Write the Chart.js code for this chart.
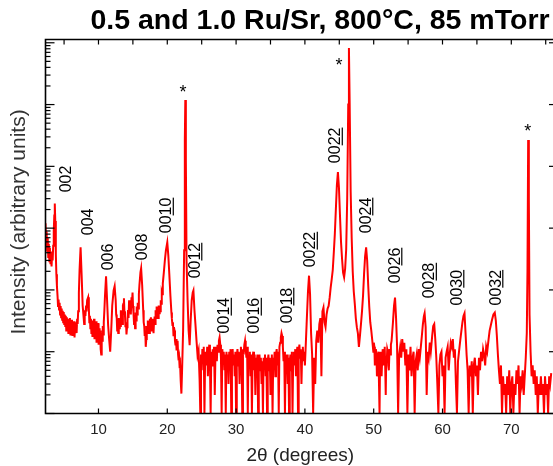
<!DOCTYPE html>
<html>
<head>
<meta charset="utf-8">
<script src="https://cdn.jsdelivr.net/npm/chart.js@4/dist/chart.umd.min.js"></script>
<style>
  html, body { margin: 0; padding: 0; background: #fff; }
  #wrap { width: 553px; height: 466px; }
</style>
</head>
<body>
<div id="wrap"><canvas id="xrd" width="553" height="466"></canvas></div>
<script>
//  Scan: [2theta (deg), intensity (counts)]
const scan = [
  [2.30,1200],[2.38,620],[2.46,880],[2.54,430],[2.62,700],[2.70,340],[2.78,560],[2.86,290],[2.94,480],[3.02,260],
  [3.10,420],[3.18,240],[3.26,380],[3.34,300],[3.42,520],[3.50,900],[3.58,1600],[3.65,2500],[3.72,1300],[3.80,380],
  [3.88,180],[3.96,115],[4.05,80],[4.12,55],[4.2,70],[4.27,48],[4.35,62],[4.42,40],[4.5,55],[4.57,36],
  [4.65,50],[4.72,33],[4.8,46],[4.87,30],[4.95,44],[5.02,28],[5.1,40],[5.17,26],[5.25,38],[5.32,22],
  [5.4,36],[5.47,25],[5.55,34],[5.62,20],[5.7,32],[5.77,24],[5.85,35],[5.92,19],[6.0,30],[6.07,22],
  [6.15,33],[6.22,18],[6.3,29],[6.37,21],[6.45,31],[6.52,17],[6.6,28],[6.67,22],[6.75,30],[6.82,20],
  [6.9,34],[6.97,28],[7.05,45],[7.15,90],[7.25,208],[7.4,490],[7.55,175],[7.7,56],[7.85,35],[7.92,28],
  [8.0,47],[8.1,38],[8.2,56],[8.27,45],[8.35,68],[8.5,76],[8.6,50],[8.67,30],[8.75,38],[8.82,24],
  [8.9,34],[8.97,20],[9.05,32],[9.12,18],[9.2,30],[9.27,22],[9.35,34],[9.42,16],[9.5,28],[9.57,20],
  [9.65,31],[9.72,14],[9.8,26],[9.87,18],[9.95,29],[10.02,13],[10.1,24],[10.17,16],[10.25,22],[10.32,11],
  [10.4,9],[10.47,20],[10.55,15],[10.62,26],[10.7,19],[10.77,30],[10.85,45],[10.95,82],[11.1,166],[11.25,68],
  [11.4,27],[11.55,16],[11.7,10],[11.85,22],[12.0,56],[12.2,98],[12.35,115],[12.5,68],[12.57,40],[12.65,35],
  [12.72,22],[12.8,30],[12.87,20],[12.95,35],[13.02,24],[13.1,32],[13.17,26],[13.25,47],[13.32,30],[13.4,38],
  [13.47,28],[13.55,56],[13.62,60],[13.7,73],[13.77,45],[13.85,39],[13.92,25],[14.0,30],[14.07,19],[14.15,25],
  [14.22,34],[14.3,47],[14.37,35],[14.45,68],[14.52,45],[14.6,56],[14.7,40],[14.8,76],[14.87,60],[14.95,91],
  [15.02,55],[15.1,40],[15.17,28],[15.25,35],[15.32,24],[15.4,43],[15.47,32],[15.55,54],[15.62,40],[15.7,62],
  [15.8,50],[15.87,85],[15.95,119],[16.1,193],[16.2,224],[16.35,119],[16.5,47],[16.57,30],[16.65,26],[16.72,18],
  [16.8,22],[16.87,12],[16.95,16],[17.02,26],[17.1,20],[17.17,32],[17.25,24],[17.32,30],[17.4,20],[17.47,34],
  [17.55,26],[17.62,36],[17.7,22],[17.77,30],[17.85,25],[17.92,34],[18.0,20],[18.07,30],[18.15,37],[18.22,28],
  [18.3,47],[18.37,35],[18.45,54],[18.52,38],[18.6,45],[18.67,35],[18.75,56],[18.82,42],[18.9,52],[18.97,45],
  [19.05,68],[19.12,60],[19.2,91],[19.27,85],[19.35,128],[19.5,193],[19.65,302],[19.8,438],[20.0,590],[20.15,360],
  [20.3,175],[20.45,82],[20.6,43],[20.67,34],[20.75,27],[20.82,30],[20.9,18.4],[20.97,25],[21.05,22],[21.12,15],
  [21.2,12.7],[21.27,16],[21.35,10.5],[21.42,13],[21.5,15],[21.57,9],[21.65,7.2],[21.72,8],[21.8,5.4],[21.87,6],
  [21.95,3.4],[22.05,2.1],[22.15,5],[22.3,22],[22.45,440],[22.55,26600],[22.62,118000],[22.7,12600],[22.8,300],[22.95,68],
  [23.1,22],[23.25,12.7],[23.4,32],[23.55,68],[23.7,91],[23.8,98],[23.95,47],[24.1,27],[24.25,15],[24.4,8.7],
  [24.55,10.5],[24.7,3.4],[24.8,1],[24.9,9],[25.0,5],[25.1,11],[25.2,7],[25.3,12],[25.4,1],[25.5,8],
  [25.6,10],[25.7,6],[25.8,12],[25.9,4],[26.0,9],[26.1,13],[26.2,7],[26.3,1],[26.4,10],[26.5,6],
  [26.6,11],[26.7,8],[26.8,12],[26.9,2],[27.0,9],[27.1,12],[27.2,7],[27.3,13],[27.4,10],[27.5,15],
  [27.6,17],[27.7,13],[27.8,8],[27.9,1],[28.0,11],[28.1,7],[28.2,10],[28.3,5],[28.4,9],[28.5,1],
  [28.6,10],[28.7,6],[28.8,9],[28.9,3],[29.0,10],[29.1,7],[29.2,11],[29.3,1],[29.4,8],[29.5,11],
  [29.6,6],[29.7,9],[29.8,4],[29.9,10],[30.0,1],[30.1,8],[30.2,11],[30.3,6],[30.4,10],[30.5,3],
  [30.6,9],[30.7,12],[30.8,7],[30.9,1],[31.0,11],[31.1,9],[31.2,13],[31.3,15],[31.4,11],[31.5,8],
  [31.6,12],[31.7,1],[31.8,9],[31.9,6],[32.0,10],[32.1,4],[32.2,9],[32.3,1],[32.4,8],[32.5,10],
  [32.6,5],[32.7,9],[32.8,2],[32.9,8],[33.0,6],[33.1,9],[33.2,1],[33.3,7],[33.4,9],[33.5,5],
  [33.6,8],[33.7,3],[33.8,7],[33.9,1],[34.0,8],[34.1,6],[34.2,9],[34.3,4],[34.4,8],[34.5,1],
  [34.6,7],[34.7,9],[34.8,5],[34.9,8],[35.0,2],[35.1,7],[35.2,9],[35.3,1],[35.4,8],[35.5,6],
  [35.6,10],[35.7,4],[35.8,9],[35.9,11],[36.0,6],[36.1,10],[36.2,1],[36.3,12],[36.4,14],[36.5,17],
  [36.6,20],[36.7,18],[36.8,12],[36.9,7],[37.0,10],[37.1,1],[37.2,8],[37.3,6],[37.4,9],[37.5,3],
  [37.6,8],[37.7,1],[37.8,7],[37.9,9],[38.0,5],[38.1,10],[38.2,1],[38.3,8],[38.4,10],[38.5,6],
  [38.6,11],[38.7,4],[38.8,9],[38.9,12],[39.0,1],[39.1,10],[39.2,13],[39.3,8],[39.4,11],[39.5,3],
  [39.6,9],[39.7,12],[39.8,7],[39.9,10],[40.0,6],[40.1,11],[40.25,28],[40.45,95],[40.6,170],[40.75,85],
  [40.9,20],[41.05,9],[41.2,1],[41.35,8],[41.5,3],[41.65,15],[41.8,22],[41.95,14],[42.1,28],[42.25,35],
  [42.4,4],[42.55,45],[42.7,52],[42.85,30],[43.0,25],[43.15,40],[43.3,50],[43.45,55],[43.6,75],[43.75,110],
  [43.9,150],[44.05,210],[44.2,400],[44.35,800],[44.5,2000],[44.65,5000],[44.8,8050],[44.95,4500],[45.1,1600],[45.25,600],
  [45.4,320],[45.55,190],[45.7,160],[45.85,220],[46.0,450],[46.15,3000],[46.3,100000],[46.4,824000],[46.5,120000],[46.65,4000],
  [46.8,700],[46.95,200],[47.1,95],[47.25,60],[47.4,35],[47.55,25],[47.7,20],[47.85,12],[48.0,18],[48.15,28],
  [48.3,45],[48.45,80],[48.6,180],[48.75,350],[48.9,490],[49.05,300],[49.2,120],[49.35,55],[49.5,30],[49.65,22],
  [49.8,15],[49.95,10],[50.02,14],[50.1,12],[50.17,6],[50.25,7],[50.32,11],[50.4,9],[50.47,4],[50.55,5],
  [50.62,8],[50.7,10],[50.77,3],[50.85,1],[50.92,7],[51.0,8],[51.07,10],[51.15,4],[51.22,7],[51.3,11],
  [51.37,9],[51.45,6],[51.52,10],[51.6,12],[51.67,6],[51.75,2],[51.82,8],[51.9,7],[51.97,11],[52.05,10],
  [52.12,6],[52.2,5],[52.3,11],[52.4,9],[52.5,13],[52.6,15],[52.8,30],[52.95,55],[53.1,75],[53.25,35],
  [53.4,12],[53.55,1],[53.7,9],[53.85,12],[54.0,8],[54.15,16],[54.3,10],[54.45,14],[54.6,6],[54.75,11],
  [54.9,1],[55.05,9],[55.2,5],[55.35,12],[55.5,4],[55.65,8],[55.8,10],[55.95,1],[56.1,7],[56.25,9],
  [56.4,5],[56.55,11],[56.7,8],[56.85,12],[57.0,18],[57.15,28],[57.3,38],[57.4,42],[57.55,25],[57.7,2],
  [57.85,10],[58.0,8],[58.15,14],[58.3,10],[58.5,18],[58.65,26],[58.8,28],[58.95,16],[59.1,8],[59.25,3],
  [59.4,1],[59.55,6],[59.7,9],[59.85,10],[60.0,4],[60.15,6],[60.3,1],[60.45,8],[60.6,10],[60.75,12],
  [60.9,5],[61.05,9],[61.2,14],[61.35,12],[61.5,16],[61.65,8],[61.8,11],[61.95,3],[62.1,1],[62.25,7],
  [62.4,10],[62.6,16],[62.75,22],[62.9,30],[63.05,38],[63.2,42],[63.35,20],[63.5,9],[63.65,5],[63.8,1],
  [63.95,6],[64.1,4],[64.25,7],[64.4,1],[64.55,6],[64.7,8],[64.85,4],[65.0,6],[65.15,2],[65.3,8],
  [65.45,5],[65.6,10],[65.75,7],[65.9,11],[66.05,9],[66.2,6],[66.35,12],[66.5,10],[66.7,16],[66.85,22],
  [67.0,26],[67.2,33],[67.4,40],[67.6,43],[67.75,32],[67.9,18],[68.05,9],[68.2,5],[68.35,3],[68.5,6],
  [68.65,1],[68.8,4],[68.95,2],[69.1,3],[69.25,1],[69.4,4],[69.55,2],[69.7,5],[69.85,1],[70.0,3],
  [70.15,4],[70.3,1],[70.45,3],[70.6,2],[70.75,5],[70.9,3],[71.05,6],[71.2,1],[71.35,4],[71.5,3],
  [71.65,5],[71.8,2],[71.95,4],[72.1,8],[72.25,20],[72.35,200],[72.45,26600],[72.55,3000],[72.65,40],[72.8,10],
  [72.95,4],[73.1,6],[73.25,3],[73.4,5],[73.55,2],[73.7,4],[73.85,1],[74.0,3],[74.15,2],[74.3,4],
  [74.45,2],[74.6,3],[74.75,1],[74.9,4],[75.05,2],[75.2,3],[75.35,1],[75.5,4],[75.65,3],[75.8,4.5]
];

//  Reflection labels: text, index where the underlined part starts, 2theta, intensity at the text foot
const peakText  = ['002', '004', '006', '008', '0010', '0012', '0014', '0016', '0018', '0022', '0022', '0024', '0026', '0028', '0030', '0032'];
const peakUnder = [3, 3, 3, 3, 2, 2, 2, 2, 2, 2, 2, 2, 2, 2, 2, 2];
const peakX     = [5.13, 8.40, 11.31, 16.18, 19.74, 23.88, 28.17, 32.53, 37.25, 40.67, 44.30, 48.73, 52.95, 57.97, 61.96, 67.63];
const peakY     = [3800, 767, 208, 302, 827, 154, 19.8, 19.8, 28.8, 232, 11270, 827, 128, 73, 56, 56];

//  Substrate peaks marked with a star
const starX = [22.28, 44.96, 72.38];
const starY = [178000, 490000, 41500];

//  Axis ticks
const xTicks   = [10, 20, 30, 40, 50, 60, 70];
const topTicks = [5, 10, 15, 20, 25, 30, 35, 40, 45, 50, 55, 60, 65, 70, 75];
const yDecades = [1, 10, 100, 1000, 10000, 100000, 1000000];

const X_MIN = 2.30, X_MAX = 76.06;
const Y_MIN = 1, Y_MAX = 1.13e6;

const FONT = '"Liberation Sans", Arial, sans-serif';

// draws the frame, ticks, texts and labels
const decor = {
    id: 'decor',
    afterDraw(chart) {
        const { ctx, chartArea: a, scales: { x, y } } = chart;
        ctx.save();

        const seg = (x1, y1, x2, y2) => {
            ctx.beginPath(); ctx.moveTo(x1, y1); ctx.lineTo(x2, y2); ctx.stroke();
        };

        // frame (right side falls on the window edge)
        ctx.strokeStyle = '#000';
        ctx.lineWidth = 1.6;
        ctx.beginPath();
        ctx.moveTo(a.right, a.top);
        ctx.lineTo(a.left, a.top);
        ctx.lineTo(a.left, a.bottom);
        ctx.lineTo(a.right, a.bottom);
        ctx.stroke();

        ctx.lineWidth = 1.2;
        xTicks.forEach(v => {
            const px = x.getPixelForValue(v);
            seg(px, a.bottom, px, a.bottom - 5);
        });
        topTicks.forEach(v => {
            const px = x.getPixelForValue(v);
            seg(px, a.top, px, a.top + 5);
        });
        yDecades.forEach(v => {
            const py = y.getPixelForValue(v);
            seg(a.left, py, a.left + 9, py);
            seg(a.right, py, a.right - 4, py);
            if (v < 1000000) {
                for (let m = 2; m <= 9; m++) {
                    const pm = y.getPixelForValue(v * m);
                    if (pm >= a.top) seg(a.left, pm, a.left + 5, pm);
                }
            }
        });

        // tick labels
        ctx.fillStyle = '#222';
        ctx.font = '15px ' + FONT;
        ctx.textAlign = 'center';
        ctx.textBaseline = 'alphabetic';
        xTicks.forEach(v => ctx.fillText(String(v), x.getPixelForValue(v), 434));

        // axis titles
        ctx.font = '19px ' + FONT;
        ctx.fillText('2θ (degrees)', (a.left + a.right) / 2 + 1, 461);

        ctx.save();
        ctx.translate(25, 222);
        ctx.rotate(-Math.PI / 2);
        ctx.font = '21px ' + FONT;
        ctx.fillStyle = '#333';
        ctx.fillText('Intensity (arbitrary units)', 0, 0);
        ctx.restore();

        // title
        ctx.fillStyle = '#000';
        ctx.font = 'bold 28.5px ' + FONT;
        ctx.fillText('0.5 and 1.0 Ru/Sr, 800°C, 85 mTorr', 320, 29);

        // reflection labels, rotated, with the index part underlined
        ctx.font = '16px ' + FONT;
        ctx.textAlign = 'left';
        peakText.forEach((t, i) => {
            const px = x.getPixelForValue(peakX[i]);
            const py = y.getPixelForValue(peakY[i]);
            ctx.save();
            ctx.translate(px, py);
            ctx.rotate(-Math.PI / 2);
            ctx.fillText(t, 0, 5.8);
            const u = peakUnder[i];
            if (u < t.length) {
                const x0 = ctx.measureText(t.slice(0, u)).width;
                const w  = ctx.measureText(t.slice(u)).width;
                ctx.fillRect(x0, 7.2, w, 1.2);
            }
            ctx.restore();
        });

        // stars
        ctx.font = '18px ' + FONT;
        ctx.textAlign = 'center';
        ctx.textBaseline = 'middle';
        starX.forEach((s, i) => {
            ctx.fillText('*', x.getPixelForValue(s), y.getPixelForValue(starY[i]) + 4);
        });

        ctx.restore();
    }
};

new Chart(document.getElementById('xrd'), {
    type: 'line',
    data: {
        datasets: [{
            data: scan.map(p => ({ x: p[0], y: p[1] })),
            borderColor: '#ff0000',
            borderWidth: 2,
            pointRadius: 0,
            tension: 0,
            fill: false
        }]
    },
    options: {
        responsive: false,
        animation: false,
        events: [],
        layout: { padding: { left: 45.5, top: 39.5, right: 0, bottom: 52.5 } },
        plugins: { legend: { display: false }, tooltip: { enabled: false }, title: { display: false } },
        scales: {
            x: { type: 'linear', min: X_MIN, max: X_MAX, display: false },
            y: { type: 'logarithmic', min: Y_MIN, max: Y_MAX, display: false }
        }
    },
    plugins: [decor]
});
</script>
</body>
</html>
